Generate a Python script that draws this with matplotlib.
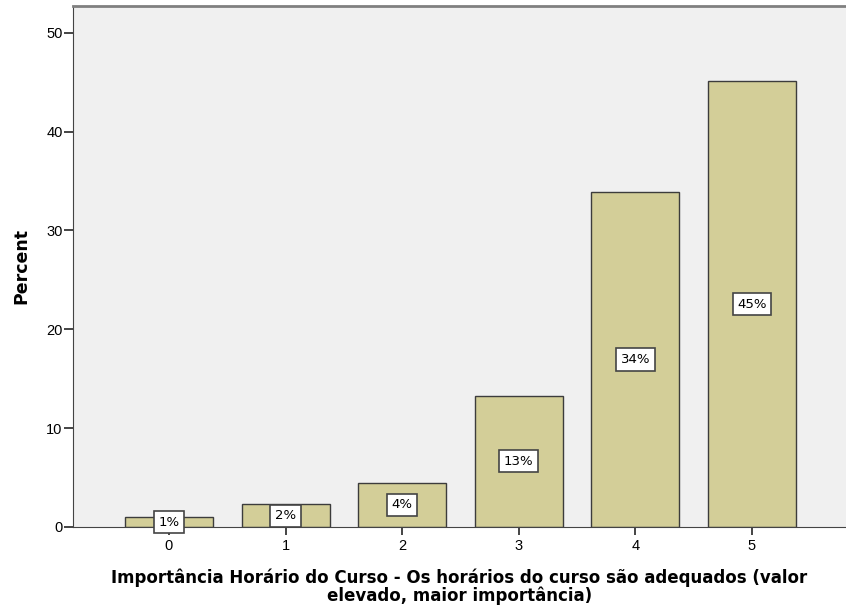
import numpy as np
import matplotlib
matplotlib.use('Agg')
import matplotlib.pyplot as plt

# Values
categories = ['0', '1', '2', '3', '4', '5']
percent = [1.0, 2.3, 4.5, 13.3, 33.9, 45.1]
bar_labels = ['1%', '2%', '4%', '13%', '34%', '45%']
yticks = [0, 10, 20, 30, 40, 50]

plt.rcParams['font.family'] = ['DejaVu Sans']
tick_font = ['Liberation Sans Narrow', 'Liberation Sans', 'DejaVu Sans']

fig = plt.figure(figsize=(8.46, 6.10), dpi=100)
ax = fig.add_axes([73 / 846, 83 / 610, 773 / 846, 521 / 610])
ax.set_facecolor('#f0f0f0')

x = np.arange(len(categories))
ax.bar(x, percent, width=0.755, color='#d3ce98', edgecolor='#3c3c3c',
       linewidth=1.0, zorder=2)

for xi, val, lab in zip(x, percent, bar_labels):
    ax.text(xi, val / 2, lab, ha='center', va='center', fontsize=9.5,
            zorder=3,
            bbox=dict(boxstyle='square,pad=0.35', facecolor='white',
                      edgecolor='#444444', linewidth=1.2))

ax.set_xlim(-0.823, 5.806)
ax.set_ylim(0, 52.7)
ax.set_xticks(x)
ax.set_xticklabels(categories, fontsize=10.5, family=tick_font)
ax.set_yticks(yticks)
ax.set_yticklabels([str(t) for t in yticks], fontsize=10.5, family=tick_font)
ax.tick_params(axis='x', direction='out', length=6, width=1.4,
               color='#444444', pad=3)
ax.tick_params(axis='y', direction='out', length=6.5, width=1.4,
               color='#444444', pad=1)

ax.spines['right'].set_visible(False)
ax.spines['top'].set_color('#808080')
ax.spines['top'].set_linewidth(2)
ax.spines['left'].set_color('#444444')
ax.spines['bottom'].set_color('#444444')

ax.set_ylabel('Percent', fontsize=12.5, fontweight='bold')
ax.yaxis.set_label_coords(-43 / 773, 0.5)
ax.set_xlabel('Importância Horário do Curso - Os horários do curso são adequados (valor\n'
              'elevado, maior importância)', fontsize=12, fontweight='bold',
              linespacing=0.95, labelpad=11)

fig.savefig('out.png', dpi=100)
